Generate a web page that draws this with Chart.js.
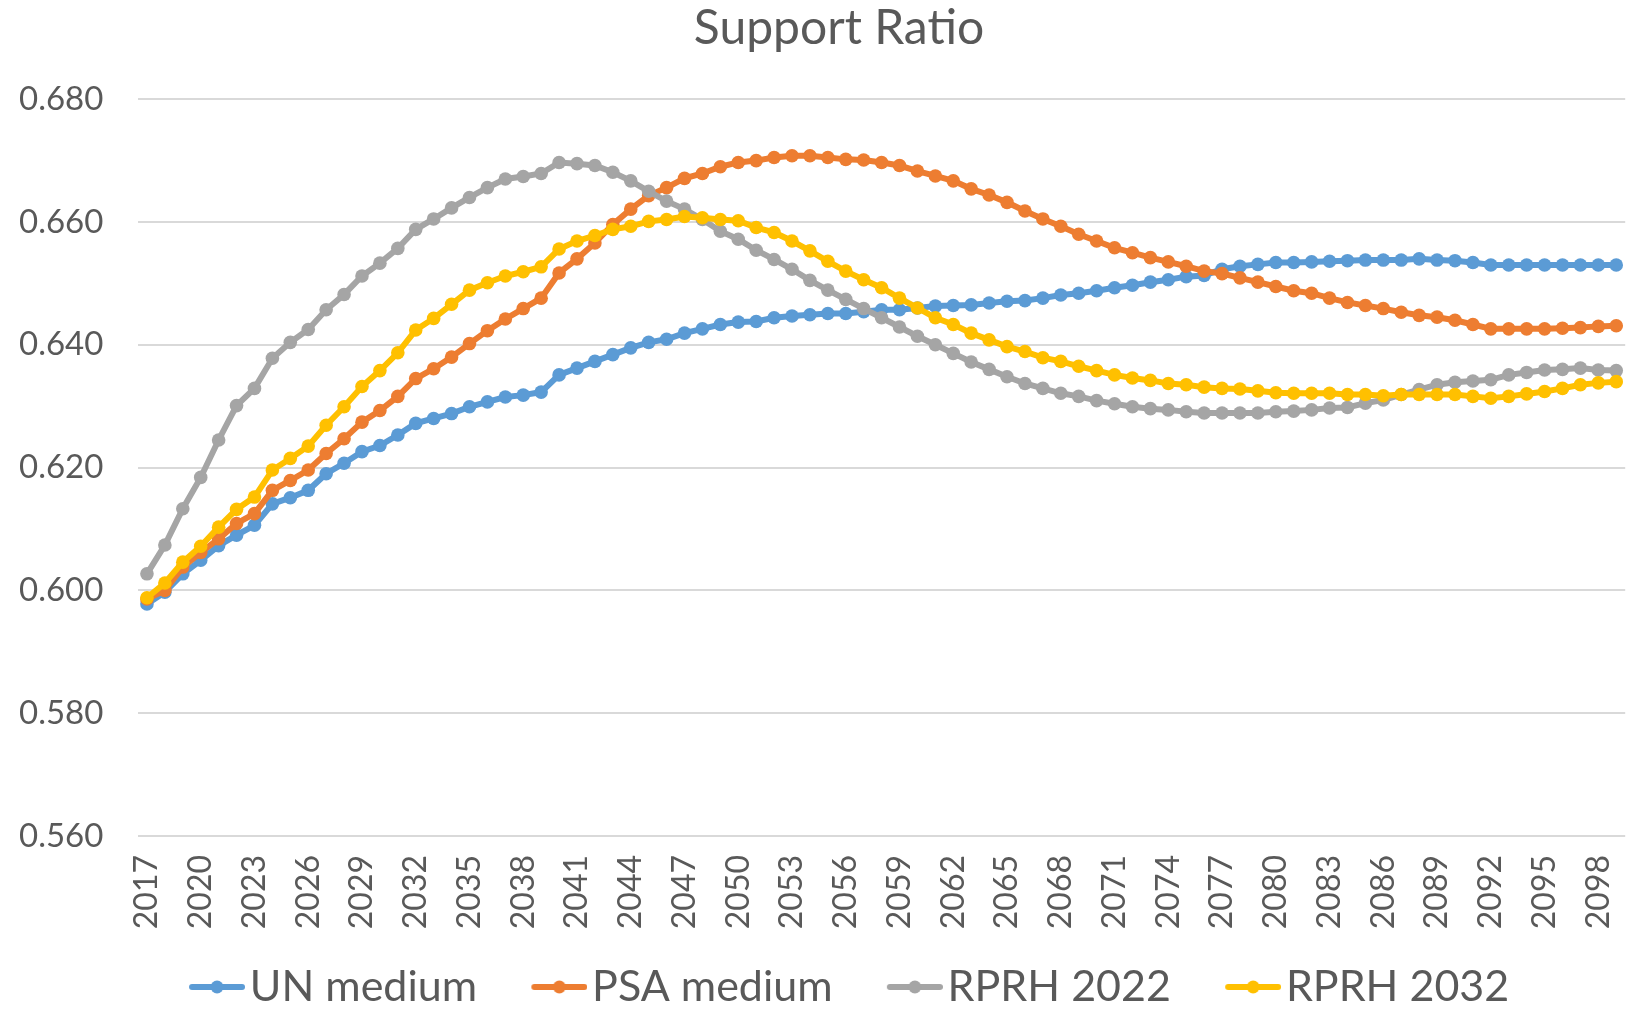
<!DOCTYPE html>
<html>
<head>
<meta charset="utf-8">
<title>Support Ratio</title>
<script src="https://cdn.jsdelivr.net/npm/chart.js@4.4.1/dist/chart.umd.min.js"></script>
<style>
  html, body { margin: 0; padding: 0; background: #fff; overflow: hidden; }
  canvas { display: block; }
</style>
</head>
<body>
<canvas id="chart" width="1632" height="1009"></canvas>
<script>
// years on the category axis
const years = [
  2017, 2018, 2019, 2020, 2021, 2022, 2023, 2024, 2025, 2026,
  2027, 2028, 2029, 2030, 2031, 2032, 2033, 2034, 2035, 2036,
  2037, 2038, 2039, 2040, 2041, 2042, 2043, 2044, 2045, 2046,
  2047, 2048, 2049, 2050, 2051, 2052, 2053, 2054, 2055, 2056,
  2057, 2058, 2059, 2060, 2061, 2062, 2063, 2064, 2065, 2066,
  2067, 2068, 2069, 2070, 2071, 2072, 2073, 2074, 2075, 2076,
  2077, 2078, 2079, 2080, 2081, 2082, 2083, 2084, 2085, 2086,
  2087, 2088, 2089, 2090, 2091, 2092, 2093, 2094, 2095, 2096,
  2097, 2098, 2099
];

const unMedium = [
  0.5978, 0.5997, 0.6027, 0.6049, 0.6073, 0.6090, 0.6106, 0.6141, 0.6151, 0.6163,
  0.6190, 0.6207, 0.6226, 0.6236, 0.6253, 0.6272, 0.6280, 0.6288, 0.6299, 0.6307,
  0.6315, 0.6318, 0.6323, 0.6351, 0.6362, 0.6373, 0.6384, 0.6395, 0.6404, 0.6409,
  0.6419, 0.6426, 0.6433, 0.6437, 0.6438, 0.6444, 0.6447, 0.6449, 0.6451, 0.6451,
  0.6454, 0.6457, 0.6457, 0.6460, 0.6463, 0.6464, 0.6465, 0.6468, 0.6471, 0.6472,
  0.6476, 0.6481, 0.6484, 0.6488, 0.6493, 0.6497, 0.6502, 0.6506, 0.6511, 0.6513,
  0.6523, 0.6528, 0.6531, 0.6534, 0.6534, 0.6535, 0.6536, 0.6537, 0.6538, 0.6538,
  0.6538, 0.6540, 0.6538, 0.6537, 0.6534, 0.6530, 0.6530, 0.6530, 0.6530, 0.6530,
  0.6530, 0.6530, 0.6530
];

const psaMedium = [
  0.5986, 0.6000, 0.6038, 0.6062, 0.6084, 0.6109, 0.6125, 0.6163, 0.6179, 0.6196,
  0.6223, 0.6247, 0.6274, 0.6293, 0.6316, 0.6345, 0.6361, 0.6380, 0.6402, 0.6423,
  0.6442, 0.6459, 0.6476, 0.6517, 0.6540, 0.6566, 0.6596, 0.6621, 0.6643, 0.6656,
  0.6671, 0.6679, 0.6690, 0.6697, 0.6700, 0.6705, 0.6708, 0.6708, 0.6705, 0.6702,
  0.6701, 0.6697, 0.6692, 0.6683, 0.6675, 0.6667, 0.6654, 0.6644, 0.6632, 0.6618,
  0.6605, 0.6593, 0.6580, 0.6569, 0.6558, 0.6550, 0.6542, 0.6535, 0.6528, 0.6520,
  0.6516, 0.6509, 0.6502, 0.6495, 0.6488, 0.6484, 0.6476, 0.6469, 0.6464, 0.6459,
  0.6453, 0.6448, 0.6445, 0.6440, 0.6433, 0.6426, 0.6426, 0.6426, 0.6426, 0.6427,
  0.6428, 0.6430, 0.6431
];

const rprh2022 = [
  0.6027, 0.6074, 0.6133, 0.6184, 0.6245, 0.6301, 0.6329, 0.6378, 0.6404, 0.6425,
  0.6457, 0.6482, 0.6512, 0.6533, 0.6557, 0.6588, 0.6605, 0.6623, 0.6640, 0.6656,
  0.6670, 0.6674, 0.6679, 0.6697, 0.6695, 0.6692, 0.6681, 0.6667, 0.6650, 0.6634,
  0.6621, 0.6604, 0.6585, 0.6572, 0.6554, 0.6539, 0.6523, 0.6505, 0.6489, 0.6474,
  0.6459, 0.6444, 0.6429, 0.6414, 0.6400, 0.6386, 0.6372, 0.6360, 0.6348, 0.6337,
  0.6329, 0.6321, 0.6316, 0.6309, 0.6304, 0.6299, 0.6296, 0.6294, 0.6291, 0.6289,
  0.6289, 0.6289, 0.6289, 0.6291, 0.6292, 0.6294, 0.6297, 0.6298, 0.6305, 0.6310,
  0.6319, 0.6327, 0.6335, 0.6339, 0.6341, 0.6343, 0.6351, 0.6355, 0.6359, 0.6360,
  0.6362, 0.6359, 0.6358
];

const rprh2032 = [
  0.5988, 0.6012, 0.6046, 0.6072, 0.6103, 0.6132, 0.6152, 0.6196, 0.6215, 0.6235,
  0.6269, 0.6299, 0.6332, 0.6358, 0.6387, 0.6424, 0.6443, 0.6466, 0.6489, 0.6501,
  0.6512, 0.6519, 0.6527, 0.6556, 0.6569, 0.6578, 0.6588, 0.6593, 0.6601, 0.6604,
  0.6609, 0.6607, 0.6604, 0.6602, 0.6591, 0.6583, 0.6569, 0.6553, 0.6536, 0.6520,
  0.6506, 0.6493, 0.6476, 0.6460, 0.6444, 0.6433, 0.6419, 0.6408, 0.6397, 0.6389,
  0.6379, 0.6373, 0.6365, 0.6358, 0.6351, 0.6346, 0.6342, 0.6337, 0.6335, 0.6331,
  0.6329, 0.6328, 0.6325, 0.6322, 0.6321, 0.6321, 0.6321, 0.6319, 0.6319, 0.6317,
  0.6319, 0.6319, 0.6319, 0.6319, 0.6316, 0.6313, 0.6316, 0.6320, 0.6324, 0.6329,
  0.6335, 0.6338, 0.6340
];

const seriesNames = ['UN medium', 'PSA medium', 'RPRH 2022', 'RPRH 2032'];
const seriesData = [unMedium, psaMedium, rprh2022, rprh2032];
const seriesColors = ['#5B9BD5', '#ED7D31', '#A5A5A5', '#FFC000'];

const TEXT = '#595959';
const LEGEND_FONT = 43;
const LEGEND_PAD = 34;    // chart.js uses this between items and above the row
const SWATCH_LEAD = 20;   // extra blank before each line sample
const SWATCH_LINE = 56;   // length of the line sample in the legend
const SWATCH_GAP = 5;     // space between line sample and label text
const BOX_W = SWATCH_LEAD + SWATCH_LINE + SWATCH_GAP - LEGEND_FONT / 2;
const SWATCH_W = Math.ceil(2 * (SWATCH_LEAD + SWATCH_LINE) - BOX_W);

Chart.defaults.font.family = 'Lato, "Open Sans", sans-serif';
Chart.defaults.color = TEXT;

// "line with a dot" marker for the legend; the picture is drawn centred
// in the legend box, so the line sits at its right end
function legendSwatch(color) {
  const c = document.createElement('canvas');
  c.width = SWATCH_W;
  c.height = 16;
  const g = c.getContext('2d');
  const x0 = c.width - SWATCH_LINE;
  g.strokeStyle = color;
  g.lineWidth = 6;
  g.lineCap = 'round';
  g.beginPath();
  g.moveTo(x0 + 3, 8);
  g.lineTo(c.width - 3, 8);
  g.stroke();
  g.fillStyle = color;
  g.beginPath();
  g.arc(x0 + SWATCH_LINE / 2, 8, 6.5, 0, Math.PI * 2);
  g.fill();
  return c;
}
const swatches = seriesColors.map(legendSwatch);

const datasets = seriesNames.map((name, i) => ({
  label: name,
  data: seriesData[i],
  borderColor: seriesColors[i],
  backgroundColor: seriesColors[i],
  pointBackgroundColor: seriesColors[i],
  pointBorderWidth: 0,
  pointRadius: 6.8,
  borderWidth: 6,
  tension: 0,
  // later series are painted over the earlier ones
  order: seriesNames.length - i
}));

new Chart(document.getElementById('chart'), {
  type: 'line',
  data: { labels: years, datasets },
  options: {
    responsive: false,
    animation: false,
    events: [],
    layout: { padding: { left: 46, right: 0, top: 0, bottom: 0 } },
    plugins: {
      title: {
        display: true,
        text: 'Support Ratio',
        color: TEXT,
        font: { size: 48, weight: 'normal' },
        padding: { top: 0, bottom: 41.6 }
      },
      legend: {
        position: 'bottom',
        maxHeight: 77.5,
        labels: {
          color: TEXT,
          font: { size: LEGEND_FONT },
          usePointStyle: true,
          pointStyleWidth: BOX_W,
          padding: LEGEND_PAD,
          sort: (a, b) => a.datasetIndex - b.datasetIndex,
          generateLabels(chart) {
            const items = Chart.defaults.plugins.legend.labels.generateLabels(chart);
            items.forEach(it => { it.pointStyle = swatches[it.datasetIndex]; });
            return items;
          }
        }
      },
      tooltip: { enabled: false }
    },
    scales: {
      x: {
        type: 'category',
        offset: true,
        grid: { display: false, drawTicks: false },
        border: { display: false },
        afterFit(scale) {
          scale.height = 95.5;
          // let the plot run to the right edge
          scale.paddingLeft = 0;
          scale.paddingRight = 0;
        },
        ticks: {
          autoSkip: false,
          minRotation: 90,
          maxRotation: 90,
          padding: 19,
          color: TEXT,
          font: { size: 32 },
          callback: (v, i) => (i % 3 === 0 ? years[i] : '')
        }
      },
      y: {
        min: 0.56,
        max: 0.68,
        grid: { color: '#D9D9D9', lineWidth: 2, drawTicks: false },
        border: { display: false },
        afterFit(scale) { scale.width = 92; },
        ticks: {
          stepSize: 0.02,
          // labels are placed from the axis' right edge back to x = 19
          mirror: true,
          padding: -119,
          color: TEXT,
          font: { size: 33 },
          callback: v => v.toFixed(3)
        }
      }
    }
  }
});
</script>
</body>
</html>
